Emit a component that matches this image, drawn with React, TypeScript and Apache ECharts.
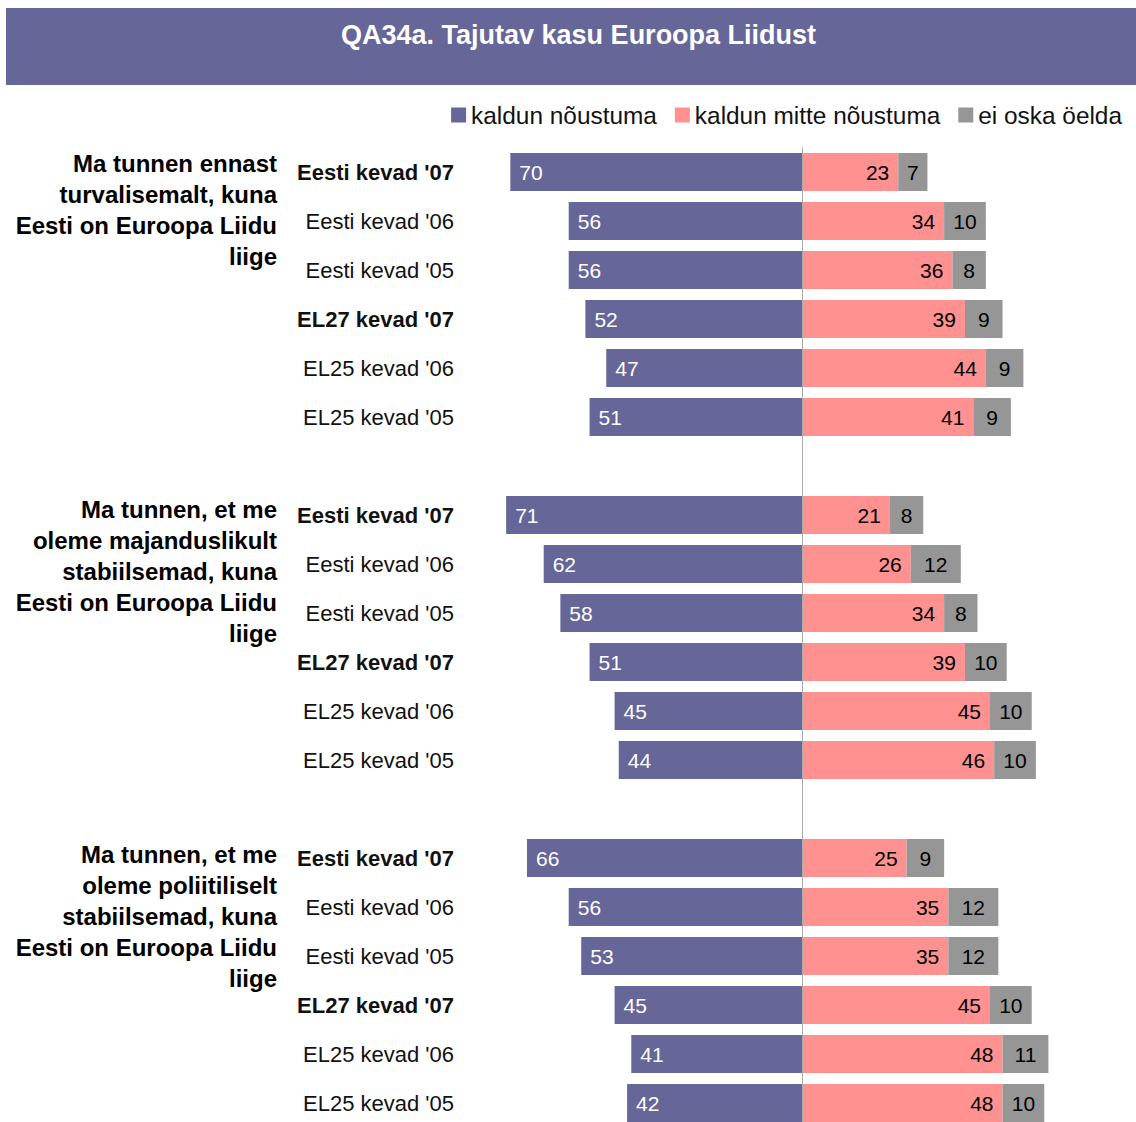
import React, { useEffect, useRef } from "react";
import * as echarts from "echarts";

const titleText = "QA34a. Tajutav kasu Euroopa Liidust";
const seriesNames = ["kaldun nõustuma", "kaldun mitte nõustuma", "ei oska öelda"];
const colors = ["#666699", "#FF9191", "#969696"];

const rowLabels = ["Eesti kevad '07", "Eesti kevad '06", "Eesti kevad '05", "EL27 kevad '07", "EL25 kevad '06", "EL25 kevad '05"];
const boldRows = [0, 3];

const groupTitles = [
  "Ma tunnen ennast\nturvalisemalt, kuna\nEesti on Euroopa Liidu\nliige",
  "Ma tunnen, et me\noleme majanduslikult\nstabiilsemad, kuna\nEesti on Euroopa Liidu\nliige",
  "Ma tunnen, et me\noleme poliitiliselt\nstabiilsemad, kuna\nEesti on Euroopa Liidu\nliige",
];

const agree1 = [70, 56, 56, 52, 47, 51];
const disagree1 = [23, 34, 36, 39, 44, 41];
const dk1 = [7, 10, 8, 9, 9, 9];

const agree2 = [71, 62, 58, 51, 45, 44];
const disagree2 = [21, 26, 34, 39, 45, 46];
const dk2 = [8, 12, 8, 10, 10, 10];

const agree3 = [66, 56, 53, 45, 41, 42];
const disagree3 = [25, 35, 35, 45, 48, 48];
const dk3 = [9, 12, 12, 10, 11, 10];

const FONT = "'Liberation Sans', Arial, Helvetica, sans-serif";

export default function App() {
  const ref = useRef<HTMLDivElement>(null);
  useEffect(() => {
    if (!ref.current) return;
    const chart = echarts.init(ref.current, null, { renderer: "svg" });

    const groups = [
      [agree1, disagree1, dk1],
      [agree2, disagree2, dk2],
      [agree3, disagree3, dk3],
    ];
    const cats: string[] = [];
    const boldFlags: boolean[] = [];
    const a: any[] = [];
    const d: any[] = [];
    const k: any[] = [];
    groups.forEach((g, gi) => {
      if (gi > 0) {
        cats.push("");
        boldFlags.push(false);
        a.push("-");
        d.push("-");
        k.push("-");
      }
      rowLabels.forEach((lab, i) => {
        cats.push(lab);
        boldFlags.push(boldRows.includes(i));
        a.push(-g[0][i]);
        d.push(g[1][i]);
        k.push(g[2][i]);
      });
    });

    const groupTops = [147.5, 493.5, 838.5];

    const option: any = {
      animation: false,
      backgroundColor: "#ffffff",
      textStyle: { fontFamily: FONT },
      title: {
        text: titleText,
        left: 341,
        top: 21,
        padding: 0,
        textStyle: { color: "#ffffff", fontSize: 27, fontWeight: "bold", fontFamily: FONT },
      },
      graphic: [
        {
          type: "rect",
          z: -1,
          shape: { x: 6, y: 8, width: 1130, height: 77 },
          style: { fill: "#666699" },
        },
        ...groupTitles.map((t, i) => ({
          type: "text",
          x: 277,
          y: groupTops[i],
          style: {
            text: t,
            font: `bold 24px ${FONT}`,
            fill: "#000000",
            align: "right",
            verticalAlign: "top",
            textAlign: "right",
            textVerticalAlign: "top",
            lineHeight: 31,
          },
        })),
      ],
      legend: {
        right: 14,
        top: 103,
        itemWidth: 15,
        itemHeight: 15,
        itemGap: 18,
        padding: 0,
        textStyle: { fontSize: 24.4, color: "#111111", fontFamily: FONT },
        data: seriesNames,
        icon: "rect",
      },
      grid: { left: 468.6, width: 668.8, top: 147.5, height: 980 },
      xAxis: {
        type: "value",
        min: -80,
        max: 80,
        show: false,
      },
      yAxis: {
        type: "category",
        inverse: true,
        data: cats,
        axisLine: { show: false },
        axisTick: { show: false },
        splitLine: { show: false },
        axisLabel: {
          margin: 14.6,
          interval: 0,
          fontSize: 22,
          color: "#111111",
          fontFamily: FONT,
          formatter: (v: string, idx: number) => (boldFlags[idx] ? `{b|${v}}` : `{n|${v}}`),
          rich: {
            b: { fontWeight: "bold", fontSize: 22, color: "#111111", fontFamily: FONT },
            n: { fontSize: 22, color: "#111111", fontFamily: FONT },
          },
        },
      },
      series: [
        {
          name: seriesNames[0],
          type: "bar",
          stack: "s",
          barWidth: 38,
          data: a,
          itemStyle: { color: colors[0] },
          label: {
            show: true,
            position: "insideLeft",
            distance: 9,
            color: "#ffffff",
            fontSize: 21,
            fontFamily: FONT,
            formatter: (p: any) => String(Math.abs(p.value)),
          },
        },
        {
          name: seriesNames[1],
          type: "bar",
          stack: "s",
          barWidth: 38,
          data: d,
          itemStyle: { color: colors[1] },
          label: {
            show: true,
            position: "insideRight",
            distance: 9,
            color: "#000000",
            fontSize: 21,
            fontFamily: FONT,
          },
          markLine: {
            silent: true,
            symbol: "none",
            label: { show: false },
            lineStyle: { color: "#aaaaaa", width: 1, type: "solid" },
            data: [{ xAxis: 0 }],
            z: 10,
          },
        },
        {
          name: seriesNames[2],
          type: "bar",
          stack: "s",
          barWidth: 38,
          data: k,
          itemStyle: { color: colors[2] },
          label: {
            show: true,
            position: "inside",
            color: "#000000",
            fontSize: 21,
            fontFamily: FONT,
          },
        },
      ],
    };
    chart.setOption(option);
    return () => chart.dispose();
  }, []);
  return (
    <div
      ref={ref}
      style={{ position: "absolute", left: 0, top: 0, width: 1136, height: 1140 }}
    />
  );
}
